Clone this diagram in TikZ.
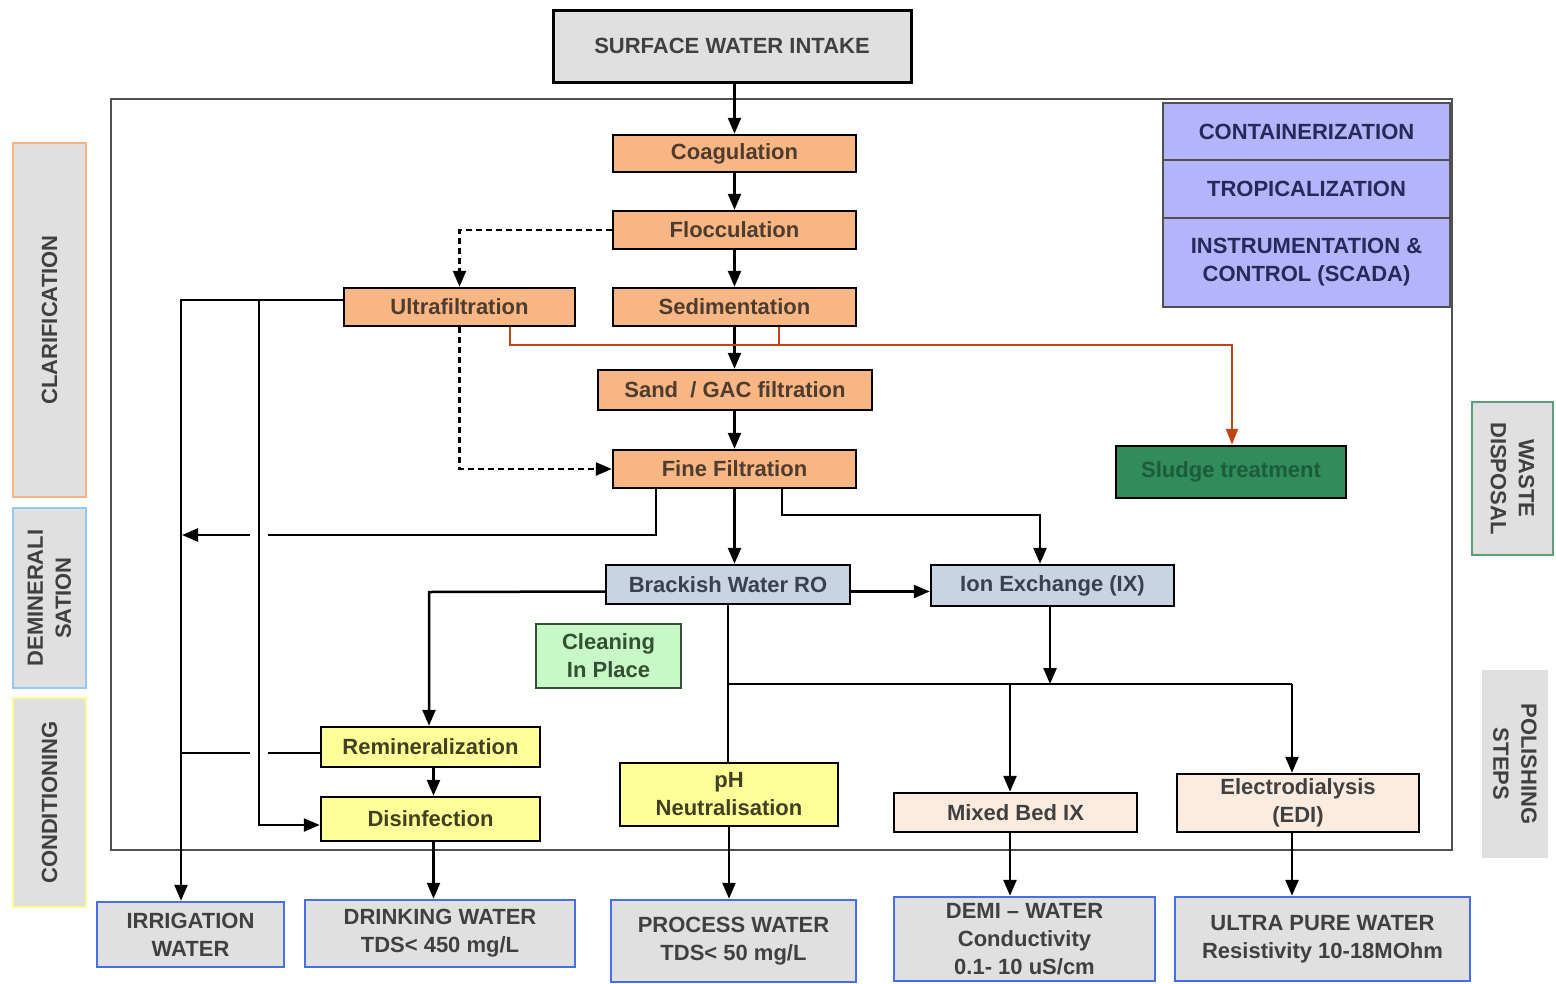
\documentclass[tikz,border=0pt]{standalone}
\usepackage{fontspec}
\setmainfont{Liberation Sans}
\usetikzlibrary{arrows.meta,calc}
\definecolor{txt}{RGB}{64,64,64}
\definecolor{orangefill}{RGB}{248,182,132}
\definecolor{orangetxt}{RGB}{78,60,46}
\definecolor{bluefill}{RGB}{200,212,228}
\definecolor{bluetxt}{RGB}{58,64,80}
\definecolor{yellowfill}{RGB}{255,255,153}
\definecolor{yellowtxt}{RGB}{64,64,32}
\definecolor{cipfill}{RGB}{200,248,200}
\definecolor{cipdraw}{RGB}{50,80,50}
\definecolor{ciptxt}{RGB}{50,80,50}
\definecolor{peachfill}{RGB}{252,236,224}
\definecolor{lavfill}{RGB}{180,180,250}
\definecolor{lavtxt}{RGB}{40,40,90}
\definecolor{sludgefill}{RGB}{48,140,90}
\definecolor{sludgetxt}{RGB}{28,92,56}
\definecolor{grayfill}{RGB}{224,224,224}
\definecolor{outdraw}{RGB}{72,110,228}
\definecolor{brownline}{RGB}{190,70,20}
\definecolor{framecol}{RGB}{80,80,80}
\definecolor{clardraw}{RGB}{246,180,130}
\definecolor{demindraw}{RGB}{150,200,240}
\definecolor{conddraw}{RGB}{255,250,150}
\definecolor{wastedraw}{RGB}{90,160,120}
\begin{document}
\begin{tikzpicture}[x=1pt,y=-1pt,
  base/.style={inner sep=0pt, align=center, text=txt, font=\bfseries\fontsize{22}{28}\selectfont},
  procbox/.style={base, draw=black, line width=2.5pt},
  orangebox/.style={procbox, fill=orangefill, text=orangetxt},
  bluebox/.style={procbox, fill=bluefill, text=bluetxt},
  yellowbox/.style={procbox, fill=yellowfill, text=yellowtxt},
  peachbox/.style={procbox, fill=peachfill, text=txt},
  lavbox/.style={procbox, draw=framecol, fill=lavfill, text=lavtxt},
  outbox/.style={base, draw=outdraw, line width=2.5pt, fill=grayfill, text=txt},
  sidebox/.style={base, fill=grayfill, line width=2pt, text=txt},
  conn/.style={draw=black, line width=2.5pt},
  arr/.style={conn, -{Triangle[length=16pt,width=13pt]}},
  dasharr/.style={arr, dash pattern=on 6pt off 4pt},
  brown/.style={draw=brownline, line width=2pt},
  brownarr/.style={brown, -{Triangle[length=16pt,width=12pt]}}
]
\useasboundingbox (0,0) rectangle (1556,983);

% main frame
\draw[draw=framecol, line width=2pt] (111,99) rectangle (1452,850);

% top input
\node[procbox, fill=grayfill, line width=3pt, minimum width=358pt, minimum height=72pt] (intake) at (732,46) {SURFACE WATER INTAKE};

% clarification chain
\node[orangebox, minimum width=243pt, minimum height=37pt] (coag) at (734.5,153.5) {Coagulation};
\node[orangebox, minimum width=243pt, minimum height=38pt] (floc) at (734.5,230) {Flocculation};
\node[orangebox, minimum width=243pt, minimum height=38pt] (sed) at (734.5,307) {Sedimentation};
\node[orangebox, minimum width=231pt, minimum height=38pt] (uf) at (459.5,307) {Ultrafiltration};
\node[orangebox, minimum width=274pt, minimum height=40pt] (sand) at (735,390) {Sand~~/ GAC filtration};
\node[orangebox, minimum width=243pt, minimum height=38pt] (fine) at (734.5,469) {Fine Filtration};

% demineralisation
\node[bluebox, minimum width=244pt, minimum height=39pt] (ro) at (728,584.5) {Brackish Water RO};
\node[bluebox, minimum width=243pt, minimum height=41pt] (ix) at (1052.5,585.5) {Ion Exchange (IX)};
\node[procbox, draw=cipdraw, fill=cipfill, text=ciptxt, minimum width=145pt, minimum height=64pt] (cip) at (608.5,656) {Cleaning\\In Place};

% conditioning
\node[yellowbox, minimum width=219pt, minimum height=40pt] (remin) at (430.5,747) {Remineralization};
\node[yellowbox, minimum width=219pt, minimum height=44pt] (disinf) at (430.5,819) {Disinfection};
\node[yellowbox, minimum width=218pt, minimum height=63pt] (ph) at (729,794.5) {pH\\Neutralisation};

% polishing
\node[peachbox, minimum width=243pt, minimum height=39pt] (mbix) at (1015.5,812.5) {Mixed Bed IX};
\node[peachbox, minimum width=242pt, minimum height=58pt] (edi) at (1298,803) {Electrodialysis\\(EDI)};

% waste
\node[procbox, fill=sludgefill, text=sludgetxt, minimum width=230pt, minimum height=52pt] (sludge) at (1231,472) {Sludge treatment};

% options stack
\node[lavbox, minimum width=287pt, minimum height=57pt] (cont) at (1306.5,131.5) {CONTAINERIZATION};
\node[lavbox, minimum width=287pt, minimum height=58pt] (trop) at (1306.5,189) {TROPICALIZATION};
\node[lavbox, minimum width=287pt, minimum height=89pt] (instr) at (1306.5,262.5) {INSTRUMENTATION \&\\CONTROL (SCADA)};

% side labels
\node[sidebox, draw=clardraw, minimum width=73pt, minimum height=354pt] (clar) at (49.5,320) {};
\node[base, rotate=90] (clart) at (clar.center) {CLARIFICATION};
\node[sidebox, draw=demindraw, minimum width=73pt, minimum height=180pt] (demin) at (49.5,598) {};
\node[base, rotate=90] (demint) at (demin.center) {DEMINERALI\\SATION};
\node[sidebox, draw=conddraw, minimum width=73pt, minimum height=209pt] (cond) at (49.5,802.5) {};
\node[base, rotate=90] (condt) at (cond.center) {CONDITIONING};
\node[sidebox, draw=wastedraw, minimum width=81pt, minimum height=153pt] (waste) at (1512.5,478.5) {};
\node[base, rotate=-90] (wastet) at (waste.center) {WASTE\\DISPOSAL};
\node[sidebox, minimum width=66pt, minimum height=188pt] (polish) at (1515,764) {};
\node[base, rotate=-90] (polisht) at (polish.center) {POLISHING\\STEPS};

% outputs
\node[outbox, minimum width=187pt, minimum height=65pt] (irr) at (190.5,934.5) {IRRIGATION\\WATER};
\node[outbox, minimum width=270pt, minimum height=67pt] (drink) at (440,933.5) {DRINKING WATER\\TDS{<} 450 mg/L};
\node[outbox, minimum width=245pt, minimum height=82pt] (proc) at (733.5,941) {PROCESS WATER\\TDS{<} 50 mg/L};
\node[outbox, minimum width=261pt, minimum height=84pt] (demi) at (1024.5,939) {DEMI -- WATER\\Conductivity\\0.1- 10 uS/cm};
\node[outbox, minimum width=295pt, minimum height=84pt] (upw) at (1322.5,939) {ULTRA PURE WATER\\Resistivity 10-18MOhm};

% named bend coordinates
\coordinate (irrtop) at (181,300);
\coordinate (disbr) at (259,300);
\coordinate (ffl) at (656,535);
\coordinate (ffgapr) at (268,535);
\coordinate (ffgapl) at (250,535);
\coordinate (ffend) at (182,535);
\coordinate (ffr) at (782,515);
\coordinate (ixin) at (1040,515);
\coordinate (bs1) at (510,345);
\coordinate (bs2) at (779,345);
\coordinate (bs3) at (1232,345);
\coordinate (rol) at (429,592);
\coordinate (bus1) at (728,684);
\coordinate (bus2) at (1292,684);
\coordinate (mbx) at (1010,684);
\coordinate (ixx) at (1050,684);
\coordinate (remgapr) at (268,753);
\coordinate (remgapl) at (250,753);
\coordinate (remend) at (181,753);

% main chain
\draw[arr] (intake.south -| coag.north) -- (coag.north);
\draw[arr] (coag) -- (floc);
\draw[arr] (floc) -- (sed);
\draw[arr] (sed.south) -- (sand.north -| sed.south);
\draw[arr] (sand.south -| fine.north) -- (fine.north);
\draw[arr] (fine.south) -- (fine.south |- ro.north);

% dashed bypass via ultrafiltration
\draw[dasharr] (floc.west) -| (uf.north);
\draw[dasharr] (uf.south) |- (fine.west);

% sludge lines
\draw[brownarr] (uf.south -| bs1) -- (bs1) -- (bs3) -- (sludge.north -| bs3);
\draw[brown] (sed.south -| bs2) -- (bs2);

% ultrafiltration to irrigation / disinfection
\draw[arr] ([yshift=7pt]uf.west) -- (irrtop) -- (irr.north -| irrtop);
\draw[arr] (disbr) |- ([yshift=-6pt]disinf.west);

% fine filtration to irrigation (with hop)
\draw[conn] (fine.south -| ffl) -- (ffl) -- (ffgapr);
\draw[arr] (ffgapl) -- (ffend);

% fine filtration to ion exchange
\draw[arr] (fine.south -| ffr) -- (ffr) -- (ixin) -- (ix.north -| ixin);

% RO connections
\draw[arr] ([yshift=-7pt]ro.east) -- ([yshift=-7pt]ro.east -| ix.west);
\draw[arr] ([yshift=-7pt]ro.west) -- (rol) -- (remin.north -| rol);
\draw[conn] (ro.south) -- (ph.north -| ro.south);
\draw[conn] (bus1) -- (bus2);
\draw[arr] (ix.south -| ixx) -- (ixx);
\draw[arr] (mbx) -- (mbix.north -| mbx);
\draw[arr] (bus2) -- (edi.north -| bus2);

% conditioning
\draw[arr] ([xshift=3pt]remin.south) -- ([xshift=3pt]disinf.north);
\draw[conn] (remin.west |- remgapr) -- (remgapr);
\draw[conn] (remgapl) -- (remend);

% outputs
\draw[arr] ([xshift=3pt]disinf.south) -- ([xshift=3pt]disinf.south |- drink.north);
\draw[arr] (ph.south) -- (ph.south |- proc.north);
\draw[arr] (mbix.south -| mbx) -- (demi.north -| mbx);
\draw[arr] (edi.south -| bus2) -- (upw.north -| bus2);
\end{tikzpicture}
\end{document}
